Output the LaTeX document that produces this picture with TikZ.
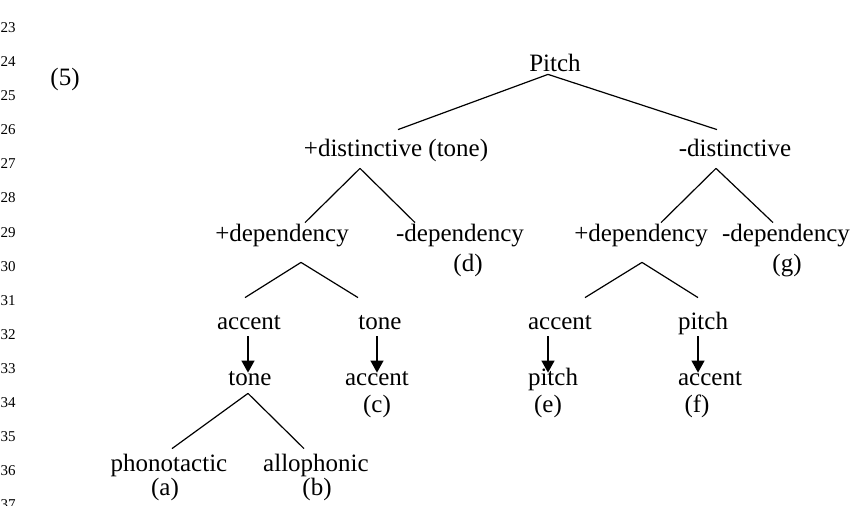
\documentclass[tikz,border=0pt]{standalone}
\usepackage{fontspec}
\setmainfont{Liberation Serif}
\usetikzlibrary{arrows.meta}

\begin{document}
\begin{tikzpicture}[
        x=0.5pt, y=-0.5pt,
        feat/.style={inner sep=0pt, anchor=base, text height=8.5pt, text depth=3pt, font=\fontsize{12.5}{15}\selectfont},
        lnum/.style={inner sep=0pt, anchor=base east, font=\fontsize{7.5}{9}\selectfont},
        branch/.style={line width=0.6pt},
        arrow/.style={-{Triangle[length=6pt, width=6.5pt]}, line width=0.6pt}
    ]
        \useasboundingbox (0,0) rectangle (854,506);
        % line numbers in the margin
        \foreach \n [count=\i from 0] in {23,...,37}
            \node[lnum] (ln\n) at (16, 32.5+34.1*\i) {\n};
        \node[feat] (ex) at (65,86) {(5)};
        % top of the tree
        \node[feat] (pitch) at (555,72) {Pitch};
        \node[feat] (dplus) at (396,157) {+distinctive (tone)};
        \node[feat] (dminus) at (735,157) {-distinctive};
        \node[feat] (lplus) at (282,242) {+dependency};
        \node[feat] (lminus) at (460,242) {-dependency};
        \node[feat] (ld) at (468,272) {(d)};
        \node[feat] (rplus) at (641,242) {+dependency};
        \node[feat] (rminus) at (786,242) {-dependency};
        \node[feat] (rg) at (787,272) {(g)};
        % accent / tone rows
        \node[feat] (lacc) at (249,330) {accent};
        \node[feat] (ltone) at (380,330) {tone};
        \node[feat] (racc) at (560,330) {accent};
        \node[feat] (rpitch) at (703,330) {pitch};
        \node[feat] (ltone2) at (250,386) {tone};
        \node[feat] (lacc2) at (377,386) {accent};
        \node[feat] (rpitch2) at (553,386) {pitch};
        \node[feat] (racc2) at (710,386) {accent};
        \node[feat] (lc) at (377,413) {(c)};
        \node[feat] (re) at (548,413) {(e)};
        \node[feat] (rf) at (697,413) {(f)};
        \node[feat] (phono) at (169,471) {phonotactic};
        \node[feat] (allo) at (316,471) {allophonic};
        \node[feat] (la) at (165,495) {(a)};
        \node[feat] (lb) at (317,495) {(b)};
        % branches
        \draw[branch] ([shift={(-7,-4)}]pitch.south) -- ([shift={(2,-10)}]dplus.north);
        \draw[branch] ([shift={(-7,-4)}]pitch.south) -- ([shift={(-18,-10)}]dminus.north);
        \draw[branch] ([shift={(-36,5)}]dplus.south) -- ([shift={(23,-2)}]lplus.north);
        \draw[branch] ([shift={(-36,5)}]dplus.south) -- ([shift={(-45,-2)}]lminus.north);
        \draw[branch] ([shift={(-19,5)}]dminus.south) -- ([shift={(20,-2)}]rplus.north);
        \draw[branch] ([shift={(-19,5)}]dminus.south) -- ([shift={(-13,-2)}]rminus.north);
        \draw[branch] ([shift={(19,14)}]lplus.south) -- ([shift={(-4,-15)}]lacc.north);
        \draw[branch] ([shift={(19,14)}]lplus.south) -- ([shift={(-22,-15)}]ltone.north);
        \draw[branch] ([shift={(1,14)}]rplus.south) -- ([shift={(25,-15)}]racc.north);
        \draw[branch] ([shift={(1,14)}]rplus.south) -- ([shift={(-5,-15)}]rpitch.north);
        \draw[branch] ([shift={(-2,1)}]ltone2.south) -- ([shift={(3,-5)}]phono.north);
        \draw[branch] ([shift={(-2,1)}]ltone2.south) -- ([shift={(-12,-5)}]allo.north);
        % dependency arrows
        \draw[arrow] ([shift={(-1,0)}]lacc.south) -- ([shift={(-2,4)}]ltone2.north);
        \draw[arrow] ([shift={(-3,0)}]ltone.south) -- ([shift={(0,4)}]lacc2.north);
        \draw[arrow] ([shift={(-12,0)}]racc.south) -- ([shift={(-5,4)}]rpitch2.north);
        \draw[arrow] ([shift={(-5,0)}]rpitch.south) -- ([shift={(-12,4)}]racc2.north);
\end{tikzpicture}
\end{document}
